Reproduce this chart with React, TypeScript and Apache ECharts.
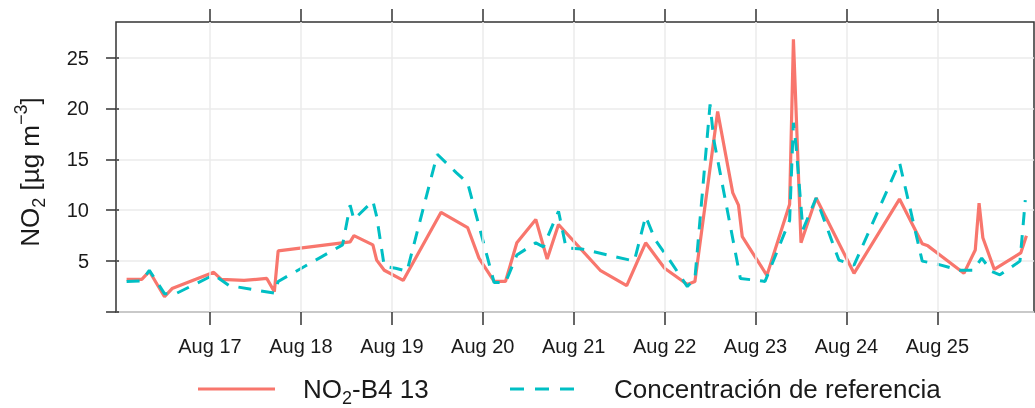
import React, { useEffect, useRef } from "react";
import * as echarts from "echarts";

// hours since Aug 16 00:00
const tickHours = [24, 48, 72, 96, 120, 144, 168, 192, 216];
const tickLabels = ["Aug 17", "Aug 18", "Aug 19", "Aug 20", "Aug 21", "Aug 22", "Aug 23", "Aug 24", "Aug 25"];
const yTickValues = [0, 5, 10, 15, 20, 25];
const yLabelValues = [5, 10, 15, 20, 25];

const sensorHours = [2, 6, 8, 12, 14, 25, 27, 33, 39, 41, 42, 61, 62, 67, 68, 70, 75, 85, 92, 95, 99, 102, 105, 110, 113, 116, 127, 134, 139, 144, 150, 152, 158, 162, 163.5, 164.5, 171, 177, 178, 180, 184, 194, 206, 212, 213.5, 223, 226, 227, 228, 231, 238, 239.5];
const sensorValues = [3.2, 3.2, 4.0, 1.5, 2.3, 3.9, 3.2, 3.1, 3.3, 2.0, 6.0, 6.9, 7.5, 6.6, 5.1, 4.1, 3.1, 9.8, 8.3, 5.3, 3.0, 3.0, 6.8, 9.1, 5.2, 8.6, 4.1, 2.6, 6.8, 4.3, 2.7, 3.0, 19.7, 11.7, 10.5, 7.4, 3.6, 10.6, 26.8, 6.8, 11.2, 3.8, 11.1, 6.7, 6.5, 3.8, 6.1, 10.7, 7.3, 4.2, 5.8, 7.5];

const refHours = [2, 6, 8, 12, 15, 25, 29, 41, 42, 59, 61, 62, 67, 68, 70, 73, 76, 84, 89, 92, 99, 102, 105, 110, 112, 116, 118, 122, 136, 139, 141.5, 145.5, 150, 152, 156, 157, 164, 170.5, 177, 178, 178.7, 180.5, 184, 190, 194, 206, 212, 216, 222, 225.5, 227.7, 230.3, 232.5, 237.8, 239.2];
const refValues = [3.0, 3.05, 4.1, 1.8, 1.8, 3.65, 2.6, 1.85, 3.0, 6.6, 10.5, 9.1, 10.9, 9.4, 4.5, 4.3, 4.0, 15.5, 13.7, 12.7, 2.9, 2.9, 5.6, 6.8, 6.4, 9.9, 6.3, 6.2, 5.0, 9.4, 7.1, 5.0, 2.5, 3.3, 20.4, 16.9, 3.3, 3.0, 9.0, 18.6, 16.3, 8.1, 11.2, 5.1, 4.6, 14.7, 5.0, 4.7, 4.1, 4.1, 5.3, 4.0, 3.65, 5.0, 11.0];

const RED = "#F8766D";
const TEAL = "#00BFC4";
const FONT = "'Liberation Sans', Arial, Helvetica, sans-serif";
const TXT = "#1a1a1a";

export default function App() {
  const ref = useRef<HTMLDivElement>(null);
  useEffect(() => {
    const chart = echarts.init(ref.current!, null, { renderer: "svg" });
    const xMin = -0.8;
    const xMax = 241.5;
    chart.setOption({
      animation: false,
      grid: {
        left: 116, right: 1, top: 22, bottom: 96,
        show: true, borderColor: "#333", borderWidth: 1.5, backgroundColor: "transparent",
      },
      xAxis: [
        {
          type: "value", min: xMin, max: xMax, position: "bottom",
          axisLine: { show: false },
          splitLine: { show: false },
          axisTick: { show: true, inside: false, length: 13, customValues: tickHours, lineStyle: { color: "#333", width: 1.5 } },
          axisLabel: {
            customValues: tickHours,
            formatter: (v: number) => { const i = tickHours.indexOf(v); return i >= 0 ? tickLabels[i] : ""; },
            margin: 24, fontSize: 20, color: TXT, fontFamily: FONT,
          },
        },
        {
          type: "value", min: xMin, max: xMax, position: "top",
          axisLine: { show: false },
          splitLine: { show: false },
          axisTick: { show: true, inside: false, length: 13, customValues: tickHours, lineStyle: { color: "#333", width: 1.5 } },
          axisLabel: { show: false },
        },
      ],
      yAxis: {
        type: "value", min: 0, max: 28.5, interval: 5,
        axisLine: { show: false },
        axisTick: { show: true, inside: false, length: 13, customValues: yTickValues, lineStyle: { color: "#333", width: 1.5 } },
        axisLabel: { customValues: yLabelValues, margin: 27, fontSize: 20, color: TXT, fontFamily: FONT },
        splitLine: { show: true, lineStyle: { color: "#ebebeb", width: 1.5 } },
      },
      series: [
        {
          type: "line", data: [], z: 1, silent: true,
          markLine: {
            silent: true, symbol: ["none", "none"], label: { show: false },
            lineStyle: { color: "#ebebeb", width: 1.5, type: "solid" },
            data: tickHours.map((h) => ({ xAxis: h })),
          },
        },
        {
          name: "NO2-B4 13", type: "line", z: 3, showSymbol: false, symbol: "none",
          data: sensorHours.map((h, i) => [h, sensorValues[i]]),
          lineStyle: { color: RED, width: 3.2 }, itemStyle: { color: RED },
        },
        {
          name: "Concentración de referencia", type: "line", z: 4, showSymbol: false, symbol: "none",
          data: refHours.map((h, i) => [h, refValues[i]]),
          lineStyle: { color: TEAL, width: 3, type: [13, 10] }, itemStyle: { color: TEAL },
        },
      ],
      graphic: [
        {
          type: "text", x: 30, y: 172, rotation: Math.PI / 2,
          style: {
            text: "{n|NO}{s|2}{n| [µg m}{p|−3}{n|]}",
            align: "center", verticalAlign: "middle", fill: TXT, fontFamily: FONT,
            rich: {
              n: { fontSize: 26, lineHeight: 36, fontFamily: FONT, fill: TXT },
              s: { fontSize: 18, lineHeight: 24, verticalAlign: "bottom", fontFamily: FONT, fill: TXT },
              p: { fontSize: 18, lineHeight: 24, verticalAlign: "top", fontFamily: FONT, fill: TXT },
            },
          },
        },
        { type: "line", shape: { x1: 198, y1: 389, x2: 275, y2: 389 }, style: { stroke: RED, lineWidth: 3.2 } },
        {
          type: "text", x: 303, y: 389,
          style: {
            text: "{n|NO}{s|2}{n|-B4 13}", align: "left", verticalAlign: "middle", fill: TXT, fontFamily: FONT,
            rich: {
              n: { fontSize: 26, lineHeight: 36, fontFamily: FONT, fill: TXT },
              s: { fontSize: 18, lineHeight: 24, verticalAlign: "bottom", fontFamily: FONT, fill: TXT },
            },
          },
        },
        { type: "line", shape: { x1: 510, y1: 389, x2: 578, y2: 389 }, style: { stroke: TEAL, lineWidth: 3, lineDash: [14, 11] } },
        {
          type: "text", x: 614, y: 389,
          style: { text: "Concentración de referencia", align: "left", verticalAlign: "middle", fontSize: 26, fill: TXT, fontFamily: FONT },
        },
      ],
    });
    return () => chart.dispose();
  }, []);
  return <div ref={ref} style={{ position: "fixed", left: 0, top: 0, width: 1035, height: 408 }} />;
}
